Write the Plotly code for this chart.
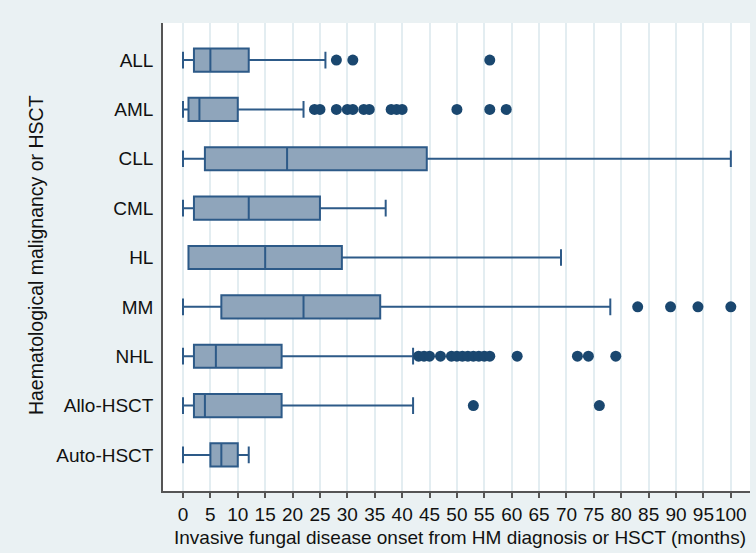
import plotly.graph_objects as go

categories = ["ALL", "AML", "CLL", "CML", "HL", "MM", "NHL", "Allo-HSCT", "Auto-HSCT"]
lower_whisker = [0, 0, 0, 0, 1, 0, 0, 0, 0]
q1_vals = [2, 1, 4, 2, 1, 7, 2, 2, 5]
median_vals = [5, 3, 19, 12, 15, 22, 6, 4, 7]
q3_vals = [12, 10, 44.5, 25, 29, 36, 18, 18, 10]
upper_whisker = [26, 22, 100, 37, 69, 78, 42, 42, 12]

outliers_ALL = [28, 31, 56]
outliers_AML = [24, 25, 28, 30, 31, 33, 34, 38, 39, 40, 50, 56, 59]
outliers_MM = [83, 89, 94, 100]
outliers_NHL = [43, 44, 45, 47, 49, 50, 51, 52, 53, 54, 55, 56, 61, 72, 74, 79]
outliers_Allo = [53, 76]

x_ticks = list(range(0, 101, 5))

x_title = "Invasive fungal disease onset from HM diagnosis or HSCT (months)"
y_title = "Haematological malignancy or HSCT"

out_x, out_y = [], []
for cat, vals in [("ALL", outliers_ALL), ("AML", outliers_AML), ("MM", outliers_MM),
                  ("NHL", outliers_NHL), ("Allo-HSCT", outliers_Allo)]:
    out_x += vals
    out_y += [cat] * len(vals)

FONT = "Liberation Sans, Arial, Helvetica, sans-serif"
BOX_LINE = "#2D5A88"
BOX_FILL = "#8FA5BB"
NAVY = "#1A476F"
TXT = 19

fig = go.Figure()
fig.add_trace(go.Box(
    y=categories, q1=q1_vals, median=median_vals, q3=q3_vals,
    lowerfence=lower_whisker, upperfence=upper_whisker,
    orientation="h", fillcolor=BOX_FILL,
    line=dict(color=BOX_LINE, width=2), width=0.47, whiskerwidth=0.72,
    boxpoints=False, showlegend=False, hoverinfo="skip",
))
fig.add_trace(go.Scatter(
    x=out_x, y=out_y, mode="markers",
    marker=dict(color=NAVY, size=11, line=dict(width=0)),
    showlegend=False, hoverinfo="skip",
))

fig.update_layout(
    width=756, height=553,
    paper_bgcolor="#EAF1F3", plot_bgcolor="#FFFFFF",
    margin=dict(l=163, r=6, t=23, b=62),
    font=dict(family=FONT, size=TXT, color="#111111"),
    annotations=[
        dict(text=x_title, xref="paper", yref="paper", x=0.506, y=-0.1004,
             xanchor="center", yanchor="middle", showarrow=False,
             font=dict(size=TXT)),
        dict(text=y_title, xref="paper", yref="paper", x=-0.2164, y=0.504,
             xanchor="center", yanchor="middle", showarrow=False, textangle=-90,
             font=dict(size=19.5)),
    ],
)
fig.update_xaxes(
    range=[-3.65, 103.5], tickmode="array", tickvals=x_ticks,
    ticktext=[str(v) for v in x_ticks], automargin=False, tickangle=0,
    showgrid=True, gridcolor="#E3EDF1", gridwidth=1.5, zeroline=False,
    showline=True, linecolor="#555555", linewidth=1.5,
    ticks="outside", ticklen=5, tickcolor="#555555", tickwidth=1.5,
    tickfont=dict(size=TXT),
)
fig.update_yaxes(
    type="category", categoryorder="array", categoryarray=categories,
    range=[8.73, -0.75], showgrid=False, zeroline=False, automargin=False,
    showline=True, linecolor="#555555", linewidth=1.5,
    ticks="", ticklabelstandoff=4,
    tickfont=dict(size=TXT),
)

fig.write_html("out.html", config={"displayModeBar": False},
               post_script="document.body.style.margin='0';document.body.style.overflow='hidden';")
